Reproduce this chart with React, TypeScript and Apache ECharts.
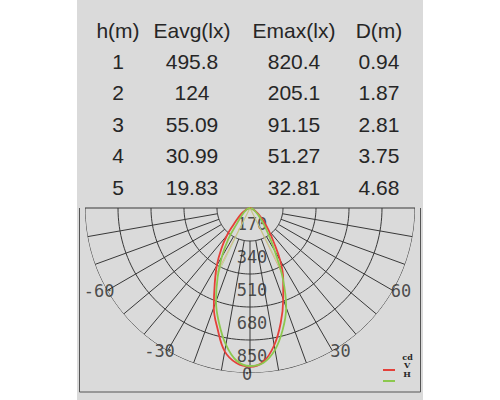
import React, { useEffect, useRef } from 'react';
import * as echarts from 'echarts';

// ---- table data ----
const tableHeaders = ['h(m)', 'Eavg(lx)', 'Emax(lx)', 'D(m)'];
const heights = ['1', '2', '3', '4', '5'];
const eavg = ['495.8', '124', '55.09', '30.99', '19.83'];
const emax = ['820.4', '205.1', '91.15', '51.27', '32.81'];
const diameters = ['0.94', '1.87', '2.81', '3.75', '4.68'];

// ---- polar diagram data (cd vs angle, deg) ----
const angles = [
  -90, -85, -80, -75, -70, -65, -60, -55, -50, -45, -40, -35, -30, -25, -20, -15, -10, -5, 0,
  5, 10, 15, 20, 25, 30, 35, 40, 45, 50, 55, 60, 65, 70, 75, 80, 85, 90,
];
const curveV = [
  0, 2, 4, 9, 16, 26, 40, 58, 82, 118, 185, 258, 342, 430, 545, 645, 750, 802, 818,
  795, 718, 612, 500, 405, 310, 212, 150, 105, 72, 50, 34, 22, 14, 8, 4, 2, 0,
];
const curveH = [
  0, 2, 4, 7, 12, 18, 26, 36, 48, 68, 105, 195, 290, 395, 512, 615, 715, 790, 814,
  800, 742, 650, 545, 400, 255, 165, 112, 78, 55, 38, 26, 18, 12, 7, 4, 2, 0,
];
const beamV = [[395, -27], [386, 26]];
const beamH = [[374, -26], [342, 27]];
const ringValues = [170, 340, 510, 680, 850];
const spokeAngles = [-80, -70, -60, -50, -40, -30, -20, -10, 0, 10, 20, 30, 40, 50, 60, 70, 80];
const angleLabels = [-60, -30, 0, 30, 60];
const legendUnit = 'cd';
const legendItems = ['V', 'H'];

const RED = '#e4403a';
const GREEN = '#8cc84e';
const GRID = '#383838';
const TEXT = '#262626';

export default function App() {
  const ref = useRef<HTMLDivElement>(null);
  useEffect(() => {
    if (!ref.current) return;
    const chart = echarts.init(ref.current, null, { renderer: 'svg' });
    const maxR = ringValues[ringValues.length - 1];
    const ringStep = ringValues[1] - ringValues[0];
    const series: any[] = [];
    const lineBase = {
      type: 'line',
      coordinateSystem: 'polar',
      symbol: 'none',
      silent: true,
      animation: false,
    };
    ringValues.forEach((v) => {
      const pts: number[][] = [];
      for (let a = -90; a <= 90; a += 2) pts.push([v, a]);
      series.push({ ...lineBase, data: pts, z: 1, lineStyle: { color: GRID, width: 1 } });
    });
    spokeAngles.forEach((a) => {
      series.push({
        ...lineBase,
        data: [[ringValues[0], a], [maxR, a]],
        z: 1,
        lineStyle: { color: GRID, width: 1 },
      });
    });
    series.push({ ...lineBase, data: [[maxR, -90], [maxR, 90]], z: 1, lineStyle: { color: GRID, width: 1 } });

    const labelStyle = {
      show: true,
      position: 'inside',
      formatter: '{b}',
      color: TEXT,
      fontFamily: 'DejaVu Sans Mono',
      fontSize: 17,
      lineHeight: 15,
    };
    // ring labels
    series.push({
      type: 'scatter',
      coordinateSystem: 'polar',
      symbolSize: 1,
      itemStyle: { color: 'rgba(0,0,0,0)' },
      silent: true,
      z: 3,
      data: ringValues.map((v) => ({ name: String(v), value: [v - ringStep / 2, 0] })),
      label: { ...labelStyle, offset: [2, -1] },
    });
    // angle labels
    series.push({
      type: 'scatter',
      coordinateSystem: 'polar',
      symbolSize: 1,
      itemStyle: { color: 'rgba(0,0,0,0)' },
      silent: true,
      z: 3,
      data: angleLabels.map((a) => ({
        name: String(a),
        value: [maxR, a],
        label: { offset: [a === 0 ? -3 : Math.sign(a) * 8, a === 0 ? 1 : 0] },
      })),
      label: labelStyle,
    });

    // beam lines
    beamV.forEach((p) => {
      series.push({ ...lineBase, data: [[0, p[1]], p], z: 4, lineStyle: { color: '#e0a070', width: 1, opacity: 0.8 } });
    });
    beamH.forEach((p) => {
      series.push({ ...lineBase, data: [[0, p[1]], p], z: 4, lineStyle: { color: '#b4d888', width: 1, opacity: 0.8 } });
    });

    // curves
    series.push({
      ...lineBase,
      name: 'V',
      data: angles.map((a, i) => [curveV[i], a]),
      smooth: 0.4,
      z: 5,
      lineStyle: { color: RED, width: 1.8 },
    });
    series.push({
      ...lineBase,
      name: 'H',
      data: angles.map((a, i) => [curveH[i], a]),
      smooth: 0.4,
      z: 6,
      lineStyle: { color: GREEN, width: 1.8 },
    });

    // table texts
    const colX = [118, 192, 294, 379];
    const headerY = 30;
    const rowY0 = 61;
    const rowH = 31.6;
    const columns = [heights, eavg, emax, diameters];
    const graphics: any[] = [
      {
        type: 'rect',
        z: -10,
        shape: { x: 77, y: 0, width: 346, height: 400 },
        style: { fill: '#dadada' },
        silent: true,
      },
      { type: 'line', z: 0, shape: { x1: 79.5, y1: 208, x2: 79.5, y2: 392 }, style: { stroke: '#555', lineWidth: 1 } },
      { type: 'line', z: 0, shape: { x1: 420.5, y1: 208, x2: 420.5, y2: 392 }, style: { stroke: '#555', lineWidth: 1 } },
      { type: 'line', z: 0, shape: { x1: 79.5, y1: 392, x2: 420.5, y2: 392 }, style: { stroke: '#555', lineWidth: 1 } },
    ];
    const tableFont = '21px "Liberation Sans", Arial';
    tableHeaders.forEach((h, c) => {
      graphics.push({
        type: 'text',
        z: 10,
        x: colX[c],
        y: headerY,
        style: { text: h, font: tableFont, fill: TEXT, align: 'center', verticalAlign: 'middle' },
      });
    });
    columns.forEach((col, c) => {
      col.forEach((v, r) => {
        graphics.push({
          type: 'text',
          z: 10,
          x: colX[c],
          y: rowY0 + r * rowH,
          style: { text: v, font: tableFont, fill: TEXT, align: 'center', verticalAlign: 'middle' },
        });
      });
    });
    // legend
    const legendFont = 'bold 8px "DejaVu Serif"';
    graphics.push({
      type: 'text',
      z: 10,
      x: 407.5,
      y: 356.5,
      style: { text: legendUnit, font: legendFont, fill: TEXT, align: 'center', verticalAlign: 'middle', lineHeight: 8 },
    });
    const legendColors = [RED, GREEN];
    legendItems.forEach((t, i) => {
      graphics.push({
        type: 'text',
        z: 10,
        x: 407,
        y: 365 + i * 8.5,
        style: { text: t, font: legendFont, fill: TEXT, align: 'center', verticalAlign: 'middle', lineHeight: 8 },
      });
      graphics.push({
        type: 'line',
        z: 10,
        shape: { x1: 383, y1: 370 + i * 11, x2: 395, y2: 370 + i * 11 },
        style: { stroke: legendColors[i], lineWidth: 2 },
      });
    });

    chart.setOption({
      animation: false,
      polar: { center: [250, 208], radius: 165 },
      angleAxis: {
        type: 'value',
        min: -180,
        max: 180,
        startAngle: 90,
        clockwise: false,
        show: false,
      },
      radiusAxis: { type: 'value', min: 0, max: 850, show: false },
      graphic: graphics,
      series,
    });
    return () => chart.dispose();
  }, []);
  return <div ref={ref} style={{ position: 'absolute', left: 0, top: 0, width: 500, height: 400 }} />;
}
